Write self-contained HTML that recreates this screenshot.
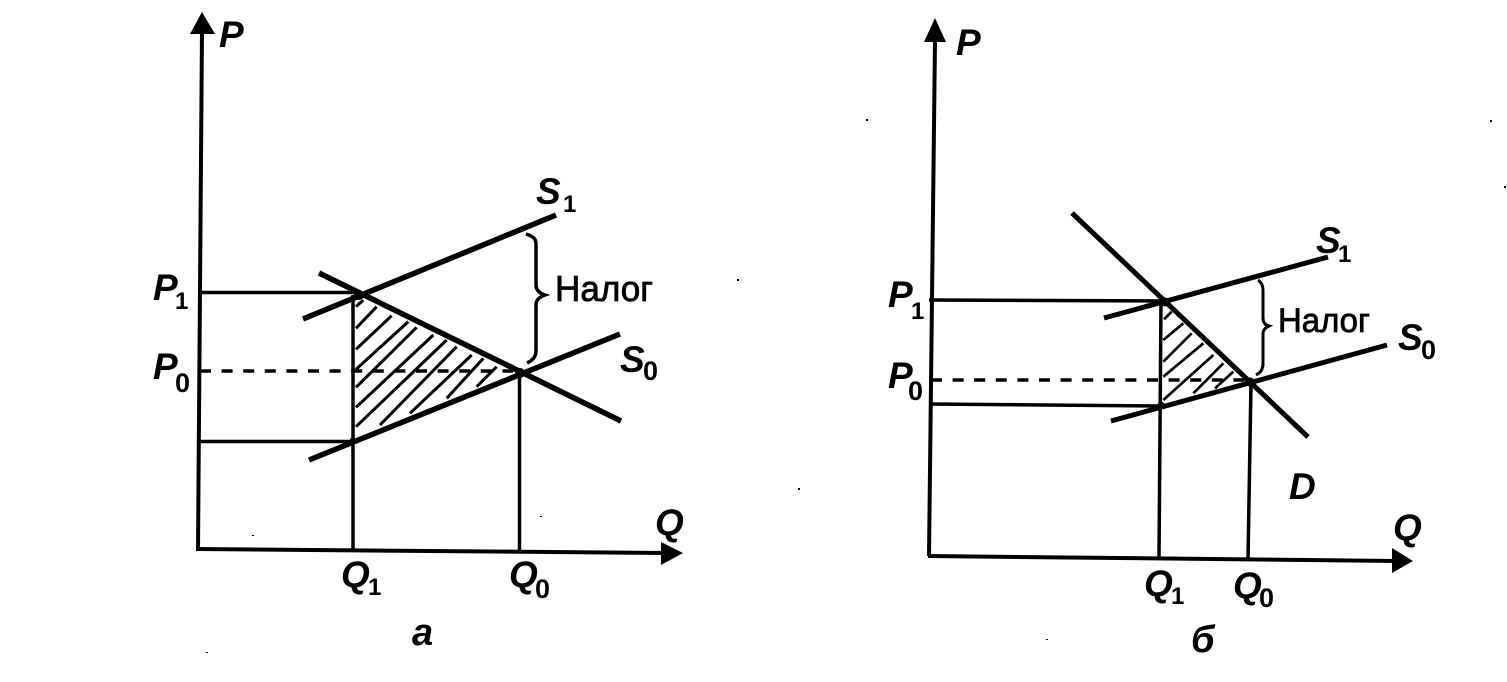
<!DOCTYPE html>
<html><head><meta charset="utf-8"><style>
html,body{margin:0;padding:0;background:#fff;width:1507px;height:682px;overflow:hidden}
svg{display:block}
text{font-family:"Liberation Sans",sans-serif;fill:#000}
.i{font-style:italic;font-weight:bold;font-size:37px}
.s{font-weight:bold;font-size:24px}
.z{font-weight:bold;font-size:27px}
.n{stroke:#000;stroke-width:.8}
</style></head><body>
<svg width="1507" height="682" viewBox="0 0 1507 682" xmlns="http://www.w3.org/2000/svg">
<g stroke="#000" fill="none">
<!-- Panel a axes -->
<path d="M202,30L198,549" stroke-width="4"/>
<path d="M196,549L668,553" stroke-width="4"/>
<!-- guides a -->
<path d="M200,292.5H358M200,441.5H352M353,295V549M519.5,373V551" stroke-width="3.5"/>
<path d="M200,371H521" stroke-width="3.5" stroke-dasharray="11 10.6"/>
<!-- hatch a -->
<g transform="translate(280,250) scale(.33333)" stroke-width="9">
<path d="M228,170L250,150M228,235L290,170M228,298L335,197M228,358L385,215M228,412L410,232M228,472L460,255M228,530L500,270M300,525L530,290M390,490L575,315M500,445L610,325M590,410L650,350"/>
</g>
<!-- curves a -->
<path d="M303,319L556,215M309,460L620,334M319,273L621,421" stroke-width="5.5"/>
<!-- brace a -->
<path d="M526,234C532,236 536,238 536,244V285C536,290 539,293 545,295C539,297 536,300 536,305V350C536,357 533,360 527,363" stroke-width="3.5"/>

<!-- Panel b axes -->
<path d="M935,40L929,556" stroke-width="4"/>
<path d="M928,556L1396,561" stroke-width="4"/>
<!-- guides b -->
<path d="M929,300L1166,301M929,404L1160,406M1161,302L1159,557M1251,383L1248,559" stroke-width="3.5"/>
<path d="M931,380H1250" stroke-width="3.5" stroke-dasharray="11 10.6"/>
<!-- hatch b -->
<g transform="translate(1080,260) scale(.33333)" stroke-width="8">
<path d="M252,178L275,155M250,240L310,190M250,305L335,220M250,350L370,250M250,420L400,285M340,400L430,310M405,385L460,335"/>
</g>
<!-- curves b -->
<path d="M1104,318L1328,257M1111,421L1387,345M1072,213L1308,437" stroke-width="5"/>
<!-- brace b -->
<path d="M1258,280C1261,282 1263,285 1263,290V318C1263,322 1265,325 1269,326C1265,328 1263,330 1263,334V365C1262,371 1260,373 1256,375" stroke-width="3"/>
</g>
<g fill="#000">
<polygon points="202,12 190,34 215,34"/>
<polygon points="683,553 661,542 661,565"/>
<polygon points="935,18 924,42 946,42"/>
<polygon points="1413,561 1392,548 1392,573"/>
<circle cx="359" cy="295" r="5"/><circle cx="520" cy="373" r="5"/><circle cx="353" cy="441" r="3.5"/>
<circle cx="1165" cy="302" r="4.5"/><circle cx="1250" cy="382" r="4.5"/><circle cx="1161" cy="405" r="3.5"/>
<!-- scan specks -->
<rect x="737" y="279" width="2" height="2"/><rect x="798" y="488" width="2" height="2"/><rect x="866" y="119" width="2" height="2"/>
<rect x="252" y="535" width="2" height="1"/><rect x="206" y="652" width="2" height="1"/><rect x="1490" y="120" width="2" height="2"/>
<rect x="1504" y="186" width="2" height="2"/><rect x="1046" y="639" width="2" height="1"/><rect x="540" y="516" width="2" height="1"/>
</g>
<!-- Labels a -->
<text class="i" x="219" y="47">P</text>
<text class="i" x="153" y="300">P</text><text class="s" x="175" y="309">1</text>
<text class="i" x="153" y="379">P</text><text class="z" x="175" y="392">0</text>
<text class="i" x="536" y="204">S</text><text class="s" x="563" y="212">1</text>
<text class="i" x="620" y="372">S</text><text class="z" x="643" y="380">0</text>
<text class="n" x="555" y="301" font-size="36" textLength="98" lengthAdjust="spacingAndGlyphs">Налог</text>
<text class="i" x="655" y="535">Q</text>
<text class="i" x="341" y="587">Q</text><text class="s" x="368" y="595">1</text>
<text class="i" x="509" y="587">Q</text><text class="z" x="535" y="598">0</text>
<text class="i" x="412" y="645" style="font-size:38px">а</text>
<!-- Labels b -->
<text class="i" x="956" y="55">P</text>
<text class="i" x="888" y="307">P</text><text class="s" x="911" y="319">1</text>
<text class="i" x="888" y="388">P</text><text class="z" x="908" y="400">0</text>
<text class="i" x="1316" y="253">S</text><text class="s" x="1338" y="262">1</text>
<text class="i" x="1398" y="350">S</text><text class="z" x="1421" y="359">0</text>
<text class="n" x="1278" y="332" font-size="34" textLength="92" lengthAdjust="spacingAndGlyphs">Налог</text>
<text class="i" x="1289" y="499">D</text>
<text class="i" x="1393" y="540">Q</text>
<text class="i" x="1144" y="596">Q</text><text class="s" x="1171" y="604">1</text>
<text class="i" x="1233" y="598">Q</text><text class="z" x="1259" y="607">0</text>
<text class="i" x="1191" y="652" style="font-size:38px">б</text>
</svg>
</body></html>
